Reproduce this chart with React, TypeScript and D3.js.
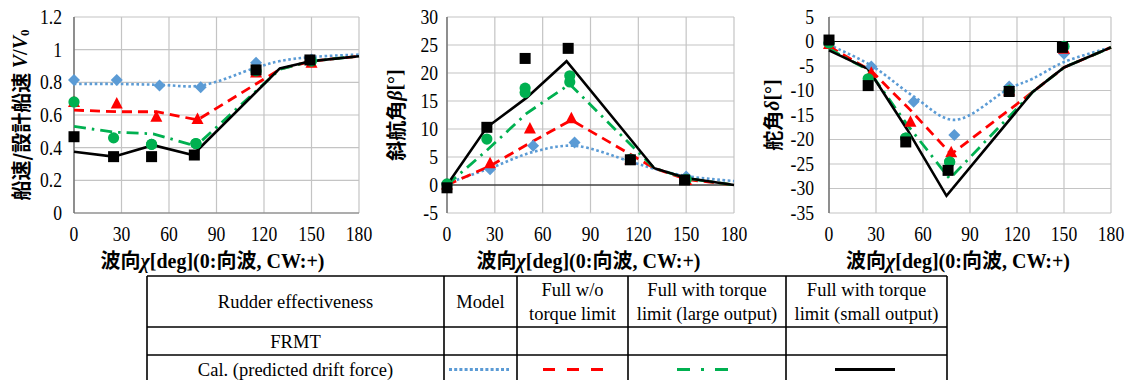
import React from 'react';
import * as d3 from 'd3';

// wave direction (deg) of each measured point and calc. line vertex
const angleModel = [0, 27, 54, 80, 115, 150];
const angleFull = [0, 27, 52, 78, 115, 150];
const angleLarge = [0, 25, 49, 49, 77, 77, 115, 150];
const angleSmall = [0, 25, 49, 76, 115, 149];

const calAngleModel = [0, 27, 54, 80, 115, 130, 150, 180];
const calAngleFull = [0, 27, 52, 78, 130, 150, 180];
const calAngleLarge = [0, 25, 50, 77, 130, 150, 180];
const calAngleSmall = [0, 25, 50, 75, 130, 150, 180];

// ship speed ratio V/V0
const speedModel = [0.815, 0.815, 0.78, 0.77, 0.92, 0.94];
const speedFull = [0.68, 0.67, 0.59, 0.575, 0.86, 0.92];
const speedLarge = [0.68, 0.46, 0.42, 0.42, 0.425, 0.425, 0.87, 0.93];
const speedSmall = [0.467, 0.345, 0.345, 0.355, 0.876, 0.937];
const speedCalModel = [0.79, 0.79, 0.785, 0.78, 0.89, 0.93, 0.955, 0.97];
const speedCalFull = [0.63, 0.62, 0.62, 0.57, 0.88, 0.93, 0.96];
const speedCalLarge = [0.53, 0.495, 0.485, 0.41, 0.88, 0.93, 0.96];
const speedCalSmall = [0.375, 0.345, 0.415, 0.355, 0.885, 0.93, 0.96];

// drift angle beta
const driftModel = [0.2, 2.8, 7.0, 7.6, 4.6, 1.5];
const driftFull = [0.1, 3.9, 10.1, 11.9, 4.6, 0.9];
const driftLarge = [0.2, 8.2, 17.3, 16.5, 19.5, 18.4, 4.6, 1.0];
const driftSmall = [-0.5, 10.3, 22.6, 24.4, 4.5, 0.9];
const driftCalModel = [0.3, 3.0, 5.9, 7.0, 4.2, 2.9, 1.6, 0.7];
const driftCalFull = [0, 3.4, 7.5, 11.6, 3.0, 1.0, 0];
const driftCalLarge = [0, 6.2, 12.8, 18.0, 3.0, 1.2, 0];
const driftCalSmall = [0, 10.3, 15.6, 22.1, 3.0, 1.25, 0];

// rudder angle delta
const rudderModel = [-0.3, -5.1, -12.3, -19.1, -9.2, -2.5];
const rudderFull = [-0.5, -6.4, -16.4, -22.6, -10.0, -1.5];
const rudderLarge = [-0.3, -7.6, -19.7, -19.7, -24.6, -24.6, -10.0, -1.0];
const rudderSmall = [0.3, -9.0, -20.5, -26.3, -10.2, -1.2];
const rudderCalModel = [-0.7, -4.9, -11.2, -16.0, -9.6, -7.6, -4.2, -1.2];
const rudderCalFull = [-1.0, -6.0, -14.0, -23.0, -10.3, -5.3, -1.2];
const rudderCalLarge = [-1.5, -5.8, -17.0, -28.0, -10.3, -5.3, -1.2];
const rudderCalSmall = [-1.8, -5.6, -18.0, -31.5, -10.3, -5.3, -1.2];

const xTicks = [0, 30, 60, 90, 120, 150, 180];

const tableHead = ['Rudder effectiveness', 'Model', ['Full w/o', 'torque limit'], ['Full with torque', 'limit (large output)'], ['Full with torque', 'limit (small output)']];
const tableRows = ['FRMT', 'Cal. (predicted drift force)'];

const BLUE = '#5b9bd5';
const RED = '#ff0000';
const GREEN = '#00b050';
const SERIF = '"Liberation Serif", "Times New Roman", serif';
const CJK = '"Noto Sans CJK JP", "Noto Sans", sans-serif';

const lineStyles = {
  model: { stroke: BLUE, dash: '2.6,2.6', width: 2.6 },
  full: { stroke: RED, dash: '10,6', width: 2.8 },
  large: { stroke: GREEN, dash: '12,6,2.5,6', width: 2.8 },
  small: { stroke: '#000', dash: null, width: 2.6 },
};

// the source figure is slightly narrower than tall, so squash text a bit
function SText({ x, y, anchor = 'middle', size = 20, sx = 0.88, baseline, children }: any) {
  return (
    <text transform={`translate(${x},${y}) scale(${sx},1)`} textAnchor={anchor} dominantBaseline={baseline}
      fontFamily={SERIF} fontSize={size}>{children}</text>
  );
}

type PlotProps = {
  x0: number; x1: number; yTop: number; yBot: number;
  yMin: number; yMax: number; yStep: number; labelGap: number;
  model: number[]; full: number[]; large: number[]; small: number[];
  calModel: number[]; calFull: number[]; calLarge: number[]; calSmall: number[];
  yTitle: React.ReactNode; yTitleX: number; titleShift: number; zeroLine: boolean;
};

function XTitle({ cx }: { cx: number }) {
  return (
    <text x={cx} y={268} textAnchor="middle" fontSize={20} fontWeight="bold">
      <tspan fontFamily={CJK}>波向</tspan>
      <tspan fontFamily={SERIF} fontStyle="italic">χ</tspan>
      <tspan fontFamily={SERIF}>[deg](0:</tspan>
      <tspan fontFamily={CJK}>向波</tspan>
      <tspan fontFamily={SERIF}>, CW:+)</tspan>
    </text>
  );
}

function Plot(p: PlotProps) {
  const x = d3.scaleLinear().domain([0, 180]).range([p.x0, p.x1]);
  const y = d3.scaleLinear().domain([p.yMin, p.yMax]).range([p.yBot, p.yTop]);
  const yTicks = d3.range(p.yMin, p.yMax + p.yStep / 2, p.yStep).map((v) => +v.toFixed(2));

  const mkLine = (xs: number[], ys: number[], curve: d3.CurveFactory) =>
    d3.line<number>().x((_, i) => x(xs[i])).y((d) => y(d)).curve(curve)(ys) || '';

  const lines = [
    { d: mkLine(calAngleModel, p.calModel, d3.curveCatmullRom.alpha(0.5)), s: lineStyles.model },
    { d: mkLine(calAngleFull, p.calFull, d3.curveLinear), s: lineStyles.full },
    { d: mkLine(calAngleLarge, p.calLarge, d3.curveLinear), s: lineStyles.large },
    { d: mkLine(calAngleSmall, p.calSmall, d3.curveLinear), s: lineStyles.small },
  ];

  return (
    <g>
      {/* grid */}
      {yTicks.map((t) => (
        <line key={'h' + t} x1={p.x0} x2={p.x1} y1={y(t)} y2={y(t)} stroke="#c4c4c4" strokeWidth={1.2} />
      ))}
      {xTicks.map((t) => (
        <line key={'v' + t} x1={x(t)} x2={x(t)} y1={p.yTop} y2={p.yBot} stroke="#c4c4c4" strokeWidth={1.2} />
      ))}
      <line x1={p.x0} x2={p.x1} y1={y(0)} y2={y(0)} stroke={p.zeroLine ? '#000' : '#7a7a7a'} strokeWidth={1.2} />
      <line x1={p.x0} x2={p.x0} y1={p.yTop} y2={p.yBot} stroke="#6e6e6e" strokeWidth={1.4} />

      {/* tick labels */}
      {yTicks.map((t) => (
        <SText key={'yl' + t} x={p.x0 - p.labelGap} y={y(t)} anchor="end" baseline="central">{String(t)}</SText>
      ))}
      {xTicks.map((t) => (
        <SText key={'xl' + t} x={x(t)} y={241}>{t}</SText>
      ))}

      {/* calculated lines */}
      {lines.map((l, i) => (
        <path key={'l' + i} d={l.d} fill="none" stroke={l.s.stroke} strokeWidth={l.s.width}
          strokeDasharray={l.s.dash || undefined} strokeLinejoin="miter" />
      ))}

      {/* measured markers */}
      {p.model.map((v, i) => {
        const cx = x(angleModel[i]), cy = y(v), r = 6;
        return <polygon key={'m' + i} points={`${cx},${cy - r} ${cx + r},${cy} ${cx},${cy + r} ${cx - r},${cy}`} fill={BLUE} />;
      })}
      {p.full.map((v, i) => {
        const cx = x(angleFull[i]), cy = y(v);
        return <polygon key={'f' + i} points={`${cx},${cy - 6.5} ${cx + 6},${cy + 5} ${cx - 6},${cy + 5}`} fill={RED} />;
      })}
      {p.large.map((v, i) => (
        <circle key={'g' + i} cx={x(angleLarge[i])} cy={y(v)} r={5.6} fill={GREEN} />
      ))}
      {p.small.map((v, i) => (
        <rect key={'s' + i} x={x(angleSmall[i]) - 5.5} y={y(v) - 5.5} width={11} height={11} fill="#000" />
      ))}

      <text transform={`translate(${p.yTitleX},${(p.yTop + p.yBot) / 2}) rotate(-90)`} textAnchor="middle"
        dominantBaseline="central" fontSize={20} fontWeight="bold">{p.yTitle}</text>
      <XTitle cx={(p.x0 + p.x1) / 2 + p.titleShift} />
    </g>
  );
}

function Table() {
  const cols = [147, 444, 517, 628, 786, 947];
  const rows = [276, 327, 355, 381];
  const mid = (i: number) => (cols[i] + cols[i + 1]) / 2;
  const legY = 369.5;
  const fs = 19.5;
  const sx = 0.95;
  const legends = [
    { x1: 449, x2: 509, s: { ...lineStyles.model, dash: '3,2.2' } },
    { x1: 543, x2: 603, s: { ...lineStyles.full, dash: '12,12' } },
    { x1: 677, x2: 729, s: { ...lineStyles.large, dash: '13,11,3,11' } },
    { x1: 835, x2: 895, s: lineStyles.small },
  ];
  return (
    <g>
      {rows.slice(0, 3).map((r) => (
        <line key={'r' + r} x1={cols[0]} x2={cols[5]} y1={r} y2={r} stroke="#000" strokeWidth={1.6} />
      ))}
      {cols.map((c) => (
        <line key={'c' + c} x1={c} x2={c} y1={rows[0]} y2={rows[3]} stroke="#000" strokeWidth={1.6} />
      ))}
      {tableHead.map((h, i) =>
        Array.isArray(h) ? (
          <g key={'h' + i}>
            <SText x={mid(i)} y={289} size={fs} sx={sx} baseline="central">{h[0]}</SText>
            <SText x={mid(i)} y={313} size={fs} sx={sx} baseline="central">{h[1]}</SText>
          </g>
        ) : (
          <SText key={'h' + i} x={mid(i)} y={301} size={fs} sx={sx} baseline="central">{h}</SText>
        )
      )}
      <SText x={mid(0)} y={341} size={fs} sx={sx} baseline="central">{tableRows[0]}</SText>
      <SText x={mid(0)} y={369} size={fs} sx={sx} baseline="central">{tableRows[1]}</SText>
      {legends.map((l, i) => (
        <line key={'lg' + i} x1={l.x1} x2={l.x2} y1={legY} y2={legY} stroke={l.s.stroke} strokeWidth={3}
          strokeDasharray={l.s.dash || undefined} />
      ))}
    </g>
  );
}

export default function App() {
  return (
    <div style={{ position: 'absolute', left: 0, top: 0 }}>
      <svg width={1133} height={380} style={{ display: 'block', background: '#fff' }}>
        <Plot x0={74} x1={359} yTop={17} yBot={213} yMin={0} yMax={1.2} yStep={0.2} labelGap={12}
          model={speedModel} full={speedFull} large={speedLarge} small={speedSmall}
          calModel={speedCalModel} calFull={speedCalFull} calLarge={speedCalLarge} calSmall={speedCalSmall}
          yTitleX={20} titleShift={-4} zeroLine={false}
          yTitle={<>
            <tspan fontFamily={CJK}>船速/設計船速 </tspan>
            <tspan fontFamily={SERIF} fontStyle="italic">V</tspan>
            <tspan fontFamily={SERIF}>/</tspan>
            <tspan fontFamily={SERIF} fontStyle="italic">V</tspan>
            <tspan fontFamily={SERIF} fontSize={13} dy={4}>0</tspan>
          </>} />
        <Plot x0={447} x1={734} yTop={17} yBot={213} yMin={-5} yMax={30} yStep={5} labelGap={9}
          model={driftModel} full={driftFull} large={driftLarge} small={driftSmall}
          calModel={driftCalModel} calFull={driftCalFull} calLarge={driftCalLarge} calSmall={driftCalSmall}
          yTitleX={395} titleShift={-2} zeroLine={true}
          yTitle={<>
            <tspan fontFamily={CJK}>斜航角</tspan>
            <tspan fontFamily={SERIF} fontStyle="italic">β</tspan>
            <tspan fontFamily={SERIF}>[°]</tspan>
          </>} />
        <Plot x0={829} x1={1111} yTop={17} yBot={213} yMin={-35} yMax={5} yStep={5} labelGap={15}
          model={rudderModel} full={rudderFull} large={rudderLarge} small={rudderSmall}
          calModel={rudderCalModel} calFull={rudderCalFull} calLarge={rudderCalLarge} calSmall={rudderCalSmall}
          yTitleX={772} titleShift={-12} zeroLine={true}
          yTitle={<>
            <tspan fontFamily={CJK}>舵角</tspan>
            <tspan fontFamily={SERIF} fontStyle="italic">δ</tspan>
            <tspan fontFamily={SERIF}>[°]</tspan>
          </>} />
        <Table />
      </svg>
    </div>
  );
}
